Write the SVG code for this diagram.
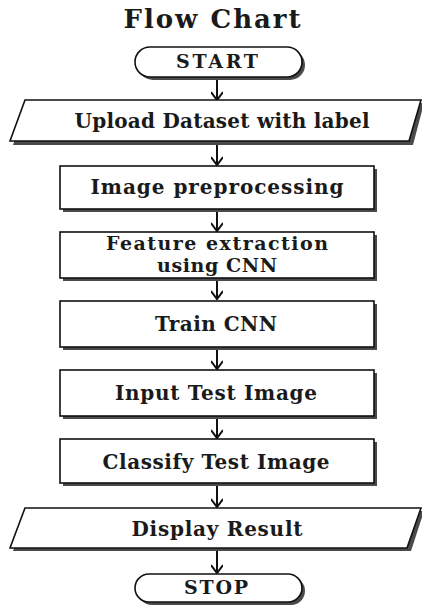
<svg xmlns="http://www.w3.org/2000/svg" width="422" height="606" viewBox="0 0 422 606">
<defs>
<style>
.sh{fill:#4a4a4a;stroke:none}
.bx{fill:#fff;stroke:#111;stroke-width:1.6}
.t{font-family:"DejaVu Serif","Liberation Serif",serif;font-weight:bold;font-size:20px;fill:#1a1a1a;text-anchor:middle}
.c{stroke:#111;stroke-width:2;fill:none}
</style>
<marker id="ah" markerWidth="16" markerHeight="12" refX="14" refY="6" orient="auto" markerUnits="userSpaceOnUse">
<path d="M6,0 L14,6 L6,12" fill="none" stroke="#111" stroke-width="2"/>
</marker>
</defs>
<rect width="422" height="606" fill="#fff"/>
<text x="212" y="28" class="t" style="font-size:26px" textLength="177">Flow Chart</text>

<g id="connectors">
<line class="c" x1="217" y1="77" x2="217" y2="100" marker-end="url(#ah)"/>
<line class="c" x1="217" y1="142" x2="217" y2="165" marker-end="url(#ah)"/>
<line class="c" x1="217" y1="209" x2="217" y2="231" marker-end="url(#ah)"/>
<line class="c" x1="217" y1="278" x2="217" y2="299" marker-end="url(#ah)"/>
<line class="c" x1="217" y1="347" x2="217" y2="369" marker-end="url(#ah)"/>
<line class="c" x1="217" y1="416" x2="217" y2="438" marker-end="url(#ah)"/>
<line class="c" x1="217" y1="483" x2="217" y2="507" marker-end="url(#ah)"/>
<line class="c" x1="217" y1="548" x2="217" y2="573" marker-end="url(#ah)"/>
</g>

<g id="start">
<rect class="sh" x="138" y="50" width="167" height="30" rx="15"/>
<rect class="bx" x="135" y="47" width="167" height="30" rx="15"/>
<text x="217" y="68" class="t" style="font-size:19px" textLength="82">START</text>
</g>

<g id="upload">
<polygon class="sh" points="28,103 424,103 413,145 13,145"/>
<polygon class="bx" points="25,100 421,100 409,141 10,141"/>
<text x="222" y="128" class="t" textLength="295">Upload Dataset with label</text>
</g>

<g id="preprocess">
<rect class="sh" x="63" y="169" width="314" height="43"/>
<rect class="bx" x="60" y="166" width="314" height="43"/>
<text x="217" y="194" class="t" textLength="253">Image preprocessing</text>
</g>

<g id="feature">
<rect class="sh" x="63" y="235" width="314" height="46"/>
<rect class="bx" x="60" y="232" width="314" height="46"/>
<text x="217" y="250" class="t" style="font-size:19px" textLength="222">Feature extraction</text>
<text x="217" y="272" class="t" style="font-size:19px" textLength="120">using CNN</text>
</g>

<g id="train">
<rect class="sh" x="63" y="304" width="314" height="46"/>
<rect class="bx" x="60" y="301" width="314" height="46"/>
<text x="216" y="331" class="t" textLength="122">Train CNN</text>
</g>

<g id="input">
<rect class="sh" x="63" y="373" width="314" height="46"/>
<rect class="bx" x="60" y="370" width="314" height="46"/>
<text x="216" y="400" class="t" textLength="202">Input Test Image</text>
</g>

<g id="classify">
<rect class="sh" x="63" y="442" width="314" height="44"/>
<rect class="bx" x="60" y="439" width="314" height="44"/>
<text x="216" y="469" class="t" textLength="227">Classify Test Image</text>
</g>

<g id="display">
<polygon class="sh" points="28,511 424,511 411,551 13,551"/>
<polygon class="bx" points="25,508 421,508 407,548 10,548"/>
<text x="217" y="536" class="t" textLength="171">Display Result</text>
</g>

<g id="stop">
<rect class="sh" x="138" y="577" width="167" height="28" rx="14"/>
<rect class="bx" x="135" y="574" width="167" height="28" rx="14"/>
<text x="216" y="594" class="t" style="font-size:19px" textLength="64">STOP</text>
</g>
</svg>
